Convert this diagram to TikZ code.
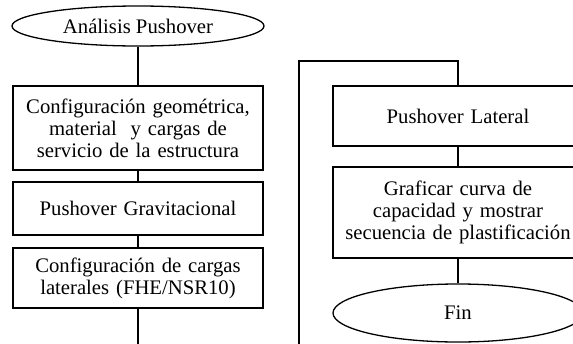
\documentclass[tikz,border=0pt]{standalone}
\usepackage{fontspec}
\setmainfont{Liberation Serif}
\usetikzlibrary{shapes.geometric,positioning}
\tikzset{%
	startstop/.style = {draw, ellipse, minimum width=126pt, minimum height=20pt, inner sep=0pt, text centered},
	process/.style   = {draw, rectangle, minimum width=125pt, text width=121pt, inner sep=2pt, align=center},
	waypoint/.style  = {coordinate},
}
\begin{document}
\begin{tikzpicture}[x=0.5pt,y=0.5pt,node distance=51pt,line width=0.65pt,font=\fontsize{10.35}{11}\selectfont]
	\useasboundingbox (0,0) rectangle (573,-343);
	\clip (0,0) rectangle (573,-343);
	\node [startstop] (ini) at (138,-26) {Análisis Pushover};
	\node [process, minimum height=42pt] (conf) [below of=ini] {Configuración geométrica,\\ material\ \ y cargas de\\ servicio de la estructura};
	\node [process, minimum height=26.5pt] (grav) [below of=conf, node distance=40.25pt] {Pushover Gravitacional};
	\node [process, minimum height=30pt] (carg) [below of=grav, node distance=34.75pt] {Configuración de cargas\\ laterales (FHE/NSR10)};
	\node [waypoint] (wa) [below of=carg, node distance=40pt] {};
	
	\node [process, minimum height=30pt] (lat) at (458,-116) {Pushover Lateral};
	\node [process, minimum height=45.5pt] (graf) [below of=lat, node distance=48.25pt] {Graficar curva de\\ capacidad y mostrar\\ secuencia de plastificación};
	\node [startstop, minimum width=125pt, minimum height=29pt] (fin) [below of=graf, node distance=50.25pt] {Fin};
	\node [waypoint] (wb) at (299,-360) {};
	\node [waypoint] (wc) at (299,-61) {};
	
	\draw (ini) -- (conf);
	\draw (conf) -- (grav);
	\draw (grav) -- (carg);
	\draw (carg) -- (wa);
	\draw (wb) -- (wc) -| (lat);
	\draw (lat) -- (graf);
	\draw (graf) -- (fin);
\end{tikzpicture}
\end{document}
